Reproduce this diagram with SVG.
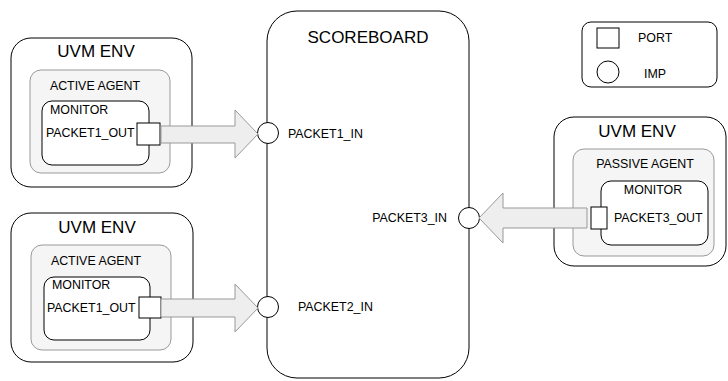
<svg xmlns="http://www.w3.org/2000/svg" width="728" height="381" viewBox="0 0 728 381">
  <style>
    text { font-family: "Liberation Sans", Arial, Helvetica, sans-serif; fill: #000; }
    .env { fill: #fff; stroke: #000; stroke-width: 1; }
    .agent { fill: #f5f5f5; stroke: #999; stroke-width: 1; }
    .mon { fill: #fff; stroke: #000; stroke-width: 1; }
    .port { fill: #fff; stroke: #000; stroke-width: 1; }
    .imp { fill: #fff; stroke: #000; stroke-width: 1; }
    .title { font-size: 17px; text-anchor: middle; }
    .lbl { font-size: 12.4px; }
    .mid { text-anchor: middle; }
    .flow { fill: #eeeeee; stroke: #999; stroke-width: 1; stroke-linejoin: miter; }
  </style>

  <!-- legend -->
  <g id="legend">
    <rect x="582" y="22" width="135" height="65" rx="9" class="env"/>
    <rect x="597" y="28" width="22" height="20" class="port"/>
    <text x="638" y="42" class="lbl">PORT</text>
    <circle cx="608" cy="72" r="11" class="imp"/>
    <text x="644" y="78" class="lbl">IMP</text>
  </g>

  <!-- scoreboard with its three implementation ports -->
  <g id="scoreboard">
    <rect x="267" y="11" width="202" height="367" rx="30" class="env"/>
    <text x="368" y="43" class="title">SCOREBOARD</text>
    <circle cx="268" cy="133" r="10.5" class="imp"/>
    <text x="288" y="138" class="lbl">PACKET1_IN</text>
    <circle cx="268" cy="307" r="10.5" class="imp"/>
    <text x="298" y="311" class="lbl">PACKET2_IN</text>
    <circle cx="469" cy="218" r="10.5" class="imp"/>
    <text x="447" y="222" class="lbl" text-anchor="end">PACKET3_IN</text>
  </g>

  <!-- environment 1: active agent -->
  <g id="env1">
    <rect x="11" y="38" width="181" height="149" rx="20" class="env"/>
    <text x="96" y="57" class="title">UVM ENV</text>
    <g id="agent1">
      <rect x="30" y="70" width="140" height="103" rx="11" class="agent"/>
      <text x="95" y="90" class="lbl mid">ACTIVE AGENT</text>
      <g id="monitor1">
        <rect x="42" y="101" width="107" height="64" rx="10" class="mon"/>
        <text x="50" y="114" class="lbl">MONITOR</text>
        <text x="46" y="137" class="lbl">PACKET1_OUT</text>
        <rect x="137" y="123" width="23" height="22" class="port"/>
      </g>
    </g>
  </g>

  <!-- environment 2: active agent -->
  <g id="env2">
    <rect x="11" y="213" width="182" height="149" rx="20" class="env"/>
    <text x="97" y="233" class="title">UVM ENV</text>
    <g id="agent2">
      <rect x="31" y="245" width="140" height="105" rx="11" class="agent"/>
      <text x="96" y="265" class="lbl mid">ACTIVE AGENT</text>
      <g id="monitor2">
        <rect x="44" y="277" width="106" height="63" rx="10" class="mon"/>
        <text x="52" y="289" class="lbl">MONITOR</text>
        <text x="47" y="312" class="lbl">PACKET1_OUT</text>
        <rect x="139" y="297" width="22" height="21" class="port"/>
      </g>
    </g>
  </g>

  <!-- environment 3: passive agent -->
  <g id="env3">
    <rect x="554" y="117" width="172" height="149" rx="20" class="env"/>
    <text x="637" y="137" class="title">UVM ENV</text>
    <g id="agent3">
      <rect x="573" y="149" width="141" height="107" rx="11" class="agent"/>
      <text x="645" y="168" class="lbl mid">PASSIVE AGENT</text>
      <g id="monitor3">
        <rect x="601" y="181" width="107" height="64" rx="10" class="mon"/>
        <text x="653" y="194" class="lbl mid">MONITOR</text>
        <text x="614" y="222" class="lbl">PACKET3_OUT</text>
        <rect x="591" y="207" width="16" height="22" class="port"/>
      </g>
    </g>
  </g>

  <!-- block arrows from monitor ports to scoreboard imps -->
  <g id="connectors">
    <polygon class="flow" points="161,126 235,126 235,110 258,134 235,158 235,143 161,143"/>
    <polygon class="flow" points="161,299 235,299 235,284 258,308 235,332 235,317 161,317"/>
    <polygon class="flow" points="587,208 503,208 503,193 479,218 503,243 503,228 587,228"/>
  </g>
</svg>
